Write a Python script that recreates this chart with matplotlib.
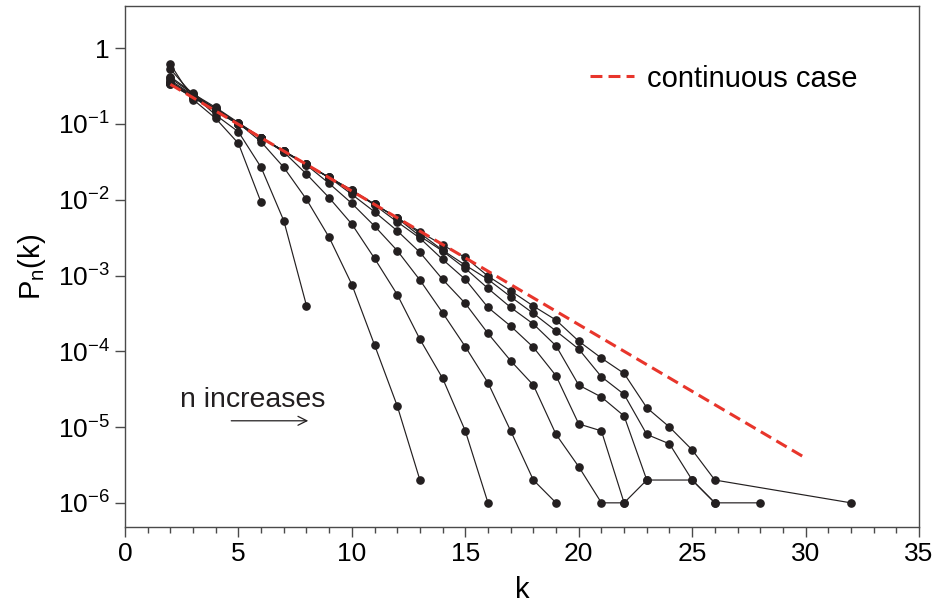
import matplotlib
matplotlib.use('Agg')
import matplotlib.pyplot as plt
import numpy as np
from matplotlib.ticker import MultipleLocator, NullLocator, FixedLocator, FuncFormatter

plt.rcParams['font.family'] = ['Liberation Sans', 'DejaVu Sans']
plt.rcParams['mathtext.fontset'] = 'custom'
plt.rcParams['mathtext.rm'] = 'Liberation Sans'
plt.rcParams['mathtext.default'] = 'regular'

# P_n(k), one series per n (smallest n first)
k_n1 = [2, 3, 4, 5, 6]
p_n1 = [0.615, 0.21, 0.118, 0.0553, 0.0092]

k_n2 = [2, 3, 4, 5, 6, 7, 8]
p_n2 = [0.53, 0.24, 0.131, 0.0787, 0.0267, 0.00527, 0.0004]

k_n3 = [2, 3, 4, 5, 6, 7, 8, 9, 10, 11, 12, 13]
p_n3 = [0.42, 0.255, 0.152, 0.1025, 0.058, 0.0267, 0.0101, 0.00318, 0.00076,
        0.000121, 1.9e-5, 2e-6]

k_n4 = list(range(2, 17))
p_n4 = [0.40, 0.25, 0.165, 0.104, 0.066, 0.0425, 0.0218, 0.0106, 0.00476,
        0.00168, 0.00056, 0.000144, 4.4e-5, 8.9e-6, 1e-6]

k_n5 = list(range(2, 20))
p_n5 = [0.375, 0.24, 0.16, 0.102, 0.066, 0.043, 0.0287, 0.0164, 0.00893,
        0.00449, 0.00213, 0.00087, 0.000322, 0.000115, 3.84e-5, 8.9e-6, 2e-6, 1e-6]

k_n6 = list(range(2, 23))
p_n6 = [0.36, 0.235, 0.155, 0.101, 0.066, 0.0435, 0.029, 0.0197, 0.01175,
        0.00692, 0.00389, 0.00202, 0.000889, 0.000428, 0.000172, 7.5e-5,
        3.58e-5, 8e-6, 3e-6, 1e-6, 1e-6]

k_n7 = list(range(2, 24))
p_n7 = [0.35, 0.23, 0.152, 0.1, 0.066, 0.0437, 0.0292, 0.0197, 0.0134,
        0.0085, 0.0051, 0.00311, 0.00163, 0.000889, 0.000379, 0.000215,
        0.000113, 4.75e-5, 1.1e-5, 8.9e-6, 1e-6, 2e-6]

k_n8 = list(range(2, 24)) + [25, 26]
p_n8 = [0.343, 0.227, 0.15, 0.0995, 0.0659, 0.0438, 0.0293, 0.0197, 0.0134,
        0.00875, 0.00572, 0.00331, 0.0021, 0.00124, 0.000676, 0.000379,
        0.000229, 0.000118, 3.58e-5, 2.49e-5, 1.4e-5, 2e-6, 2e-6, 1e-6]

k_n9 = list(range(2, 27)) + [28]
p_n9 = [0.338, 0.225, 0.149, 0.099, 0.0659, 0.0439, 0.0293, 0.0196, 0.0131,
        0.00875, 0.00575, 0.00362, 0.00216, 0.00137, 0.000889, 0.000524,
        0.000316, 0.000185, 0.000107, 4.61e-5, 2.7e-5, 8e-6, 6e-6, 2e-6,
        1e-6, 1e-6]

k_n10 = list(range(2, 27)) + [32]
p_n10 = [0.335, 0.223, 0.148, 0.0988, 0.0659, 0.0439, 0.0293, 0.0195, 0.013,
         0.00867, 0.00578, 0.00379, 0.00252, 0.00173, 0.000982, 0.000628,
         0.000395, 0.000258, 0.000136, 8.13e-5, 5.1e-5, 1.8e-5, 1e-5, 5e-6,
         2e-6, 1e-6]

# continuous case, end points of the dashed line
k_cont = [2, 30]
p_cont = [0.333, 3.9e-6]

series = [(k_n1, p_n1), (k_n2, p_n2), (k_n3, p_n3), (k_n4, p_n4), (k_n5, p_n5),
          (k_n6, p_n6), (k_n7, p_n7), (k_n8, p_n8), (k_n9, p_n9), (k_n10, p_n10)]

ink = '#231f20'
red = '#e8352b'
frame = '#4a4a4a'
fs = 19
fs_text = 21

fig = plt.figure(figsize=(9.35, 6.07), dpi=100)
ax = fig.add_subplot(1, 1, 1)
fig.subplots_adjust(left=0.1337, right=0.9829, top=0.9901, bottom=0.1318)

for k, p in series:
    ax.plot(k, p, '-o', color=ink, lw=0.85, ms=5.2, zorder=2)

ax.plot(k_cont, p_cont, color=red, lw=2.2, linestyle=(0, (3.9, 2.0)),
        label='continuous case', zorder=3)

ax.set_yscale('log')
ax.set_xlim(0, 35)
ax.set_ylim(4.8e-7, 3.6)

ax.xaxis.set_major_locator(MultipleLocator(5))
ax.xaxis.set_minor_locator(MultipleLocator(1))
ax.yaxis.set_major_locator(FixedLocator([1e-6, 1e-5, 1e-4, 1e-3, 1e-2, 1e-1, 1]))
ax.yaxis.set_minor_locator(NullLocator())


def yfmt(v, pos):
    e = int(round(np.log10(v)))
    if e == 0:
        return '1'
    return r'$\mathregular{10^{%d}}$' % e


ax.yaxis.set_major_formatter(FuncFormatter(yfmt))

for s in ax.spines.values():
    s.set_color(frame)
    s.set_linewidth(1.0)

ax.tick_params(which='both', direction='out', color=frame, width=1.0,
               labelsize=fs, top=False, right=False)
ax.tick_params(which='major', length=7)
ax.tick_params(which='minor', length=4.5)
ax.tick_params(axis='y', pad=4)
ax.tick_params(axis='x', pad=4)

ax.set_xlabel('k', fontsize=fs_text, labelpad=7)
ax.set_ylabel(r'P$_\mathregular{n}$(k)', fontsize=fs_text, labelpad=7)

ax.text(2.43, 2.27e-5, 'n increases', fontsize=20.5, va='center', ha='left', color=ink)
ax.annotate('', xy=(8.2, 1.21e-5), xytext=(4.56, 1.21e-5),
            arrowprops=dict(arrowstyle='->', color=ink, lw=0.9, mutation_scale=16))

ax.legend(loc='upper right', bbox_to_anchor=(0.956, 0.938), frameon=False,
          fontsize=fs_text, handlelength=1.5, handletextpad=0.45)

fig.savefig('out.png', dpi=100)
